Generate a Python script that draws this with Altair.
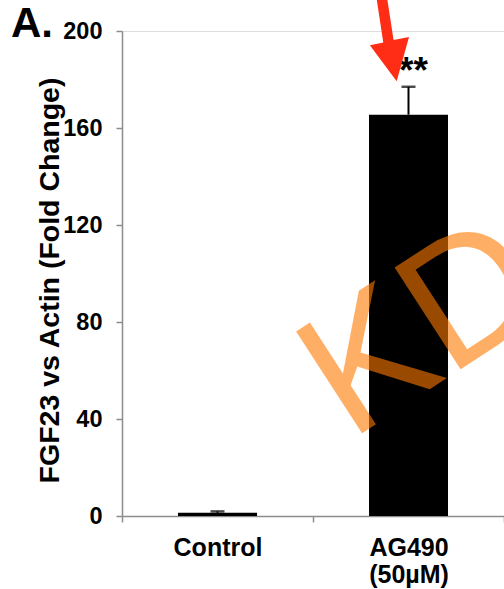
import altair as alt
import pandas as pd

# FGF23 expression relative to actin, mean ± error
groups = ["Control", "AG490 (50µM)"]
means = [1.3, 165.5]
errors = [0.6, 11.5]
significance = ["", "**"]

df = pd.DataFrame({
    "group": groups,
    "mean": means,
    "upper": [m + e for m, e in zip(means, errors)],
    "sig": significance,
})

FONT = "Liberation Sans"

x_enc = alt.X(
    "group:N",
    sort=groups,
    scale=alt.Scale(paddingInner=0, paddingOuter=0),
    axis=alt.Axis(
        title=None,
        labelAngle=0,
        labelExpr="split(datum.label, ' ')",
        labelFont=FONT,
        labelFontSize=25,
        labelFontWeight="bold",
        labelColor="black",
        labelPadding=13,
        labelLineHeight=27,
        labelBaseline="top",
        tickBand="extent",
        tickSize=6,
        tickColor="#8c8c8c",
        tickWidth=1.5,
        domainColor="#8c8c8c",
        domainWidth=1.5,
        grid=False,
    ),
)

y_scale = alt.Scale(domain=[0, 200], nice=False, zero=True)

bars = alt.Chart(df).mark_bar(color="black", size=79).encode(
    x=x_enc,
    y=alt.Y(
        "mean:Q",
        scale=y_scale,
        axis=alt.Axis(
            title="FGF23 vs Actin (Fold Change)",
            values=[0, 40, 80, 120, 160, 200],
            labelFont=FONT,
            labelFontSize=23.5,
            labelFontWeight="bold",
            labelColor="black",
            labelPadding=14,
            tickSize=6,
            tickColor="#8c8c8c",
            tickWidth=1.5,
            domainColor="#8c8c8c",
            domainWidth=1.5,
            grid=False,
            titleFont=FONT,
            titleFontSize=28.5,
            titleFontWeight="bold",
            titleColor="black",
            titleAngle=270,
            titleAlign="center",
            titleBaseline="alphabetic",
            titleX=-64,
            titleY=249,
        ),
    ),
)

err_line = alt.Chart(df).mark_rule(color="black", strokeWidth=2).encode(
    x=alt.X("group:N", sort=groups),
    y="mean:Q",
    y2="upper:Q",
)

err_cap = alt.Chart(df).mark_tick(color="black", thickness=2.5, size=14, orient="horizontal").encode(
    x=alt.X("group:N", sort=groups),
    y="upper:Q",
)

stars = alt.Chart(df).mark_text(
    font=FONT, fontSize=37, fontWeight="bold", color="black",
    baseline="alphabetic", align="center", dx=5,
).encode(
    x=alt.X("group:N", sort=groups),
    y=alt.Y("star_y:Q"),
    text="sig:N",
).transform_calculate(star_y="datum.upper + 1.6")

# red arrow pointing at the treated bar
arrow_df = pd.DataFrame({"group": [groups[1]], "y": [196]})
arrow_path = (
    "M -0.65 -1.014 L -0.45 -1.054 L -0.29 -0.014 L 0.01 -0.074 "
    "L -0.23 0.786 L -0.75 0.086 L -0.49 0.036 Z"
)
arrow = alt.Chart(arrow_df).mark_point(
    shape=arrow_path, size=10600, filled=True, fill="#FF2D16",
    stroke=None, opacity=1,
).encode(
    x=alt.X("group:N", sort=groups),
    y=alt.Y("y:Q"),
)

# watermark
mark_df = pd.DataFrame({"t": ["KD"]})
watermark = alt.Chart(mark_df).mark_text(
    font=FONT, fontSize=176, color="#FF7B00", opacity=0.6,
    angle=327, align="left", baseline="alphabetic",
).encode(x=alt.value(228), y=alt.value(410), text="t:N")

panel_df = pd.DataFrame({"t": ["A."]})
panel_label = alt.Chart(panel_df).mark_text(
    font=FONT, fontSize=42, fontWeight="bold", color="black",
    align="left", baseline="alphabetic",
).encode(x=alt.value(-111), y=alt.value(6), text="t:N")

chart = alt.layer(bars, err_line, err_cap, stars, watermark, arrow, panel_label).properties(
    width=382,
    height=485,
    padding={"left": 122, "top": 31, "right": 0, "bottom": 73},
    autosize=alt.AutoSizeParams(type="none"),
).configure_view(stroke=None).configure(background="white")

chart.save("out.html", embed_options={"renderer": "svg", "actions": False})
